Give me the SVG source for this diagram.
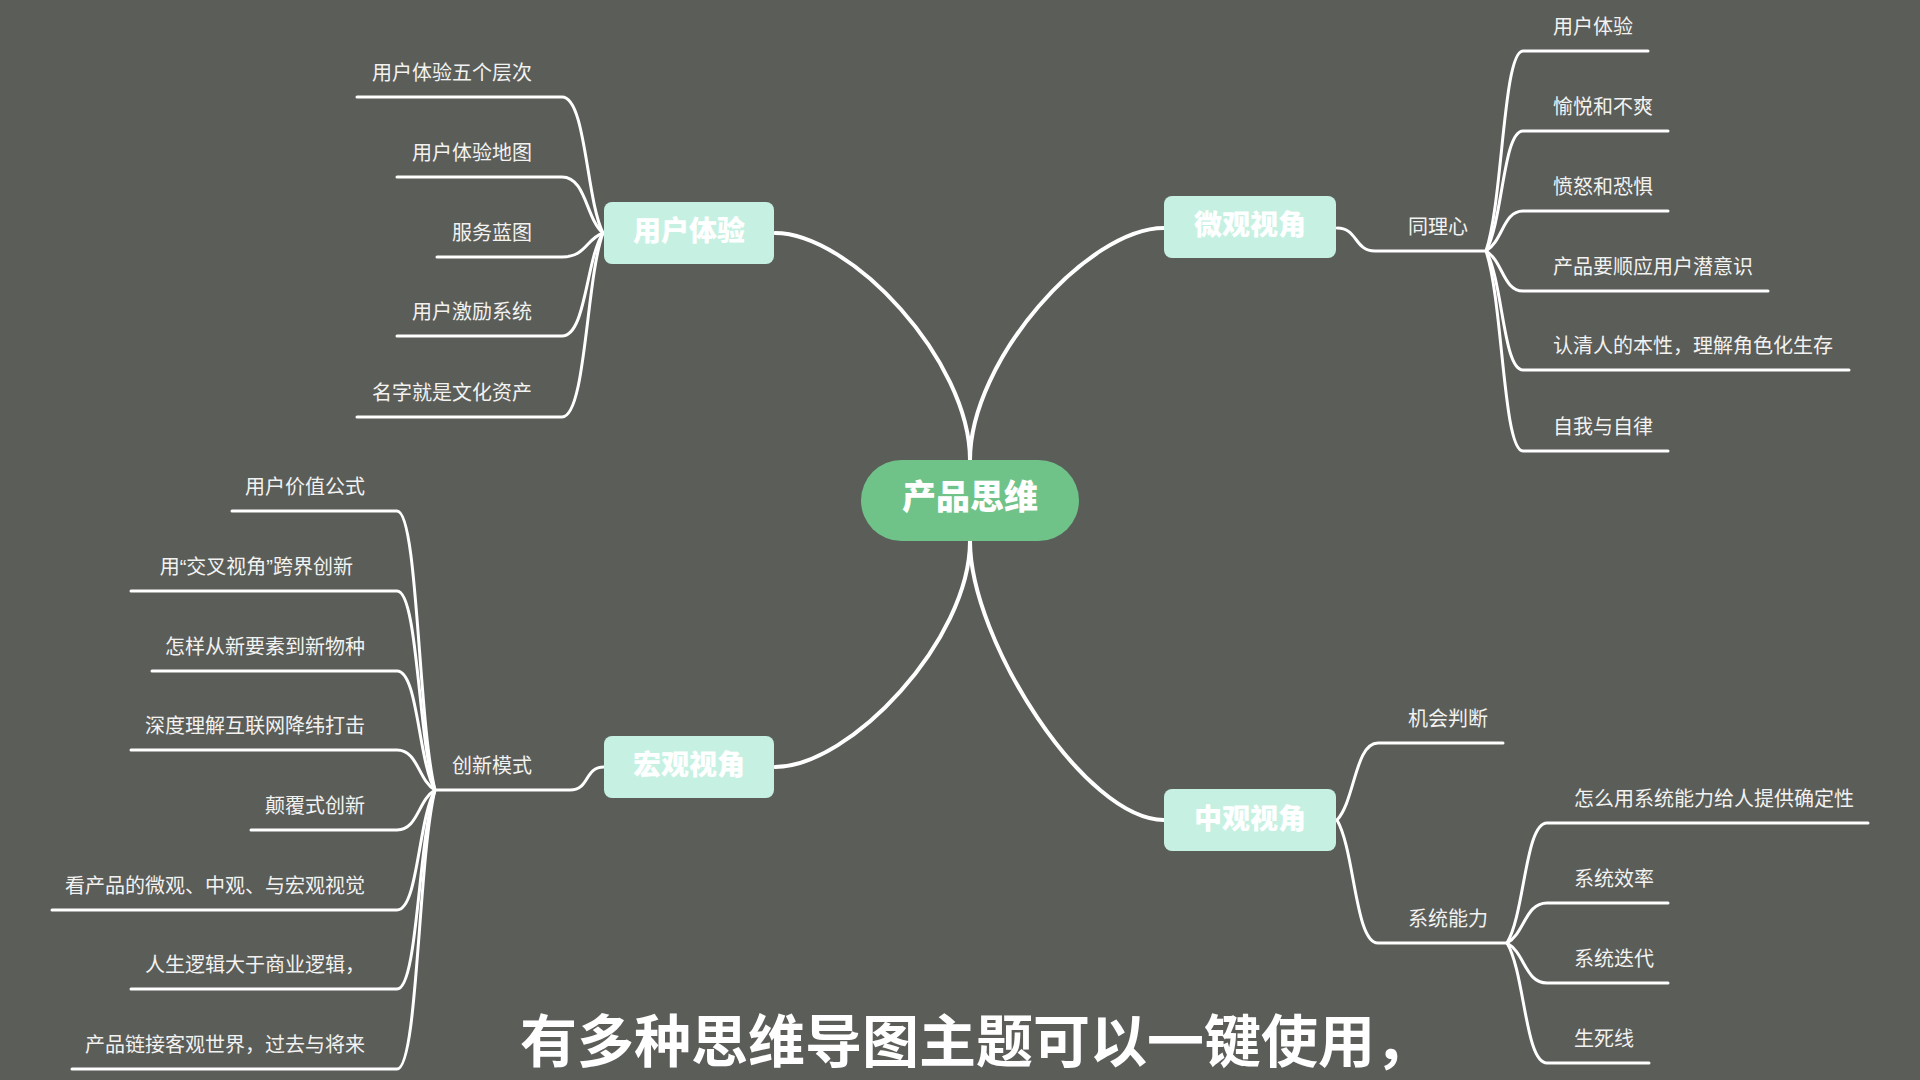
<svg xmlns="http://www.w3.org/2000/svg" width="1920" height="1080" viewBox="0 0 1920 1080">
<style>
.bg{fill:#5b5d59}
.conn{fill:none;stroke:#ffffff;stroke-width:3;stroke-linecap:round;stroke-linejoin:round}
.main{fill:none;stroke:#ffffff;stroke-width:4;stroke-linecap:round}
.box{fill:#c6f1e2}
.root{fill:#6fc389}
.mt{font-family:"Noto Sans CJK SC","Noto Sans",sans-serif;font-size:28px;font-weight:900;fill:#ffffff;text-anchor:middle}
.rt{font-family:"Noto Sans CJK SC","Noto Sans",sans-serif;font-size:34px;font-weight:900;fill:#ffffff;text-anchor:middle}
.lt{font-family:"Liberation Sans","Noto Sans CJK SC",sans-serif;font-size:20px;fill:#f2f2f0}
.end{text-anchor:end}
.cap{font-family:"Noto Sans CJK SC","Noto Sans",sans-serif;font-size:57px;font-weight:700;fill:#ffffff}
</style>
<rect class="bg" x="0" y="0" width="1920" height="1080"/>
<g id="connectors">
<path class="main" d="M775 233 C850 233 970 360 970 460"/>
<path class="main" d="M1164 228 C1088 228 970 360 970 460"/>
<path class="main" d="M775 767 C850 767 970 640 970 541"/>
<path class="main" d="M1164 820 C1085 820 970 640 970 541"/>
<path class="conn" d="M603 233 C586 199 586 97 562 97 H357"/>
<path class="conn" d="M603 233 C586 219 586 177 562 177 H397"/>
<path class="conn" d="M603 233 C586 239 586 257 562 257 H437"/>
<path class="conn" d="M603 233 C586 259 586 336 562 336 H397"/>
<path class="conn" d="M603 233 C586 279 586 417 562 417 H357"/>
<path class="conn" d="M1337 228 C1358 228 1354 251 1375 251 H1486"/>
<path class="conn" d="M1486 251 C1503 201 1503 51 1523 51 H1648"/>
<path class="conn" d="M1486 251 C1503 221 1503 131 1523 131 H1668"/>
<path class="conn" d="M1486 251 C1503 241 1503 211 1523 211 H1668"/>
<path class="conn" d="M1486 251 C1503 261 1503 291 1523 291 H1768"/>
<path class="conn" d="M1486 251 C1503 281 1503 370 1523 370 H1849"/>
<path class="conn" d="M1486 251 C1503 301 1503 451 1523 451 H1668"/>
<path class="conn" d="M604 767 C584 767 590 790 570 790 H435"/>
<path class="conn" d="M435 790 C418 720 418 511 397 511 H232"/>
<path class="conn" d="M435 790 C418 740 418 591 397 591 H131"/>
<path class="conn" d="M435 790 C418 760 418 671 397 671 H152"/>
<path class="conn" d="M435 790 C418 780 418 750 397 750 H131"/>
<path class="conn" d="M435 790 C418 800 418 830 397 830 H251"/>
<path class="conn" d="M435 790 C418 820 418 910 397 910 H52"/>
<path class="conn" d="M435 790 C418 840 418 989 397 989 H131"/>
<path class="conn" d="M435 790 C418 860 418 1069 397 1069 H72"/>
<path class="conn" d="M1337 820 C1355 801 1355 743 1378 743 H1503"/>
<path class="conn" d="M1337 820 C1355 851 1355 943 1378 943 H1507"/>
<path class="conn" d="M1507 943 C1525 913 1525 823 1547 823 H1868"/>
<path class="conn" d="M1507 943 C1525 933 1525 903 1547 903 H1668"/>
<path class="conn" d="M1507 943 C1525 953 1525 983 1547 983 H1668"/>
<path class="conn" d="M1507 943 C1525 973 1525 1063 1547 1063 H1649"/>
</g>
<g id="root"><rect class="root" x="861" y="460" width="218" height="81" rx="40.5"/><text class="rt" x="970" y="509">产品思维</text></g>
<g id="n-yonghutiyan"><rect class="box" x="604" y="202" width="170" height="62" rx="8"/><text class="mt" x="689" y="241">用户体验</text></g>
<g id="n-weiguan"><rect class="box" x="1164" y="196" width="172" height="62" rx="8"/><text class="mt" x="1250" y="235">微观视角</text></g>
<g id="n-hongguan"><rect class="box" x="604" y="736" width="170" height="62" rx="8"/><text class="mt" x="689" y="775">宏观视角</text></g>
<g id="n-zhongguan"><rect class="box" x="1164" y="789" width="172" height="62" rx="8"/><text class="mt" x="1250" y="829">中观视角</text></g>
<g id="l-ux1"><text class="lt end" x="532" y="80">用户体验五个层次</text></g>
<g id="l-ux2"><text class="lt end" x="532" y="160">用户体验地图</text></g>
<g id="l-ux3"><text class="lt end" x="532" y="240">服务蓝图</text></g>
<g id="l-ux4"><text class="lt end" x="532" y="319">用户激励系统</text></g>
<g id="l-ux5"><text class="lt end" x="532" y="400">名字就是文化资产</text></g>
<g id="n-tonglixin"><text class="lt" x="1408" y="234">同理心</text></g>
<g id="l-t1"><text class="lt" x="1553" y="34">用户体验</text></g>
<g id="l-t2"><text class="lt" x="1553" y="114">愉悦和不爽</text></g>
<g id="l-t3"><text class="lt" x="1553" y="194">愤怒和恐惧</text></g>
<g id="l-t4"><text class="lt" x="1553" y="274">产品要顺应用户潜意识</text></g>
<g id="l-t5"><text class="lt" x="1553" y="353">认清人的本性，理解角色化生存</text></g>
<g id="l-t6"><text class="lt" x="1553" y="434">自我与自律</text></g>
<g id="n-chuangxin"><text class="lt end" x="532" y="773">创新模式</text></g>
<g id="l-c1"><text class="lt end" x="365" y="494">用户价值公式</text></g>
<g id="l-c2"><text class="lt end" x="353" y="574">用“交叉视角”跨界创新</text></g>
<g id="l-c3"><text class="lt end" x="365" y="654">怎样从新要素到新物种</text></g>
<g id="l-c4"><text class="lt end" x="365" y="733">深度理解互联网降纬打击</text></g>
<g id="l-c5"><text class="lt end" x="365" y="813">颠覆式创新</text></g>
<g id="l-c6"><text class="lt end" x="365" y="893">看产品的微观、中观、与宏观视觉</text></g>
<g id="l-c7"><text class="lt end" x="365" y="972">人生逻辑大于商业逻辑，</text></g>
<g id="l-c8"><text class="lt end" x="365" y="1052">产品链接客观世界，过去与将来</text></g>
<g id="n-jihui"><text class="lt" x="1408" y="726">机会判断</text></g>
<g id="n-xitong"><text class="lt" x="1408" y="926">系统能力</text></g>
<g id="l-s1"><text class="lt" x="1574" y="806">怎么用系统能力给人提供确定性</text></g>
<g id="l-s2"><text class="lt" x="1574" y="886">系统效率</text></g>
<g id="l-s3"><text class="lt" x="1574" y="966">系统迭代</text></g>
<g id="l-s4"><text class="lt" x="1574" y="1046">生死线</text></g>
<text class="cap" x="520" y="1062">有多种思维导图主题可以一键使用，</text>
</svg>
